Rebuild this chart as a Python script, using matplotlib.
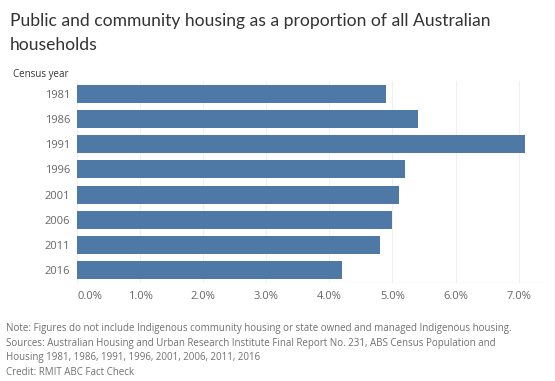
import matplotlib.pyplot as plt
from matplotlib.ticker import FuncFormatter

years = ["1981", "1986", "1991", "1996", "2001", "2006", "2011", "2016"]
share = [4.9, 5.4, 7.1, 5.2, 5.1, 5.0, 4.8, 4.2]
ticks = [0, 1, 2, 3, 4, 5, 6, 7]

plt.rcParams['font.family'] = ['Open Sans', 'DejaVu Sans']

W, H = 555, 381
fig = plt.figure(figsize=(W / 100, H / 100), dpi=100)
ax = fig.add_axes([77 / W, 1 - 283 / H, (547 - 77) / W, 202 / H])

ax.barh(range(len(years)), share, height=0.72, color='#4e78a5', zorder=2)
ax.set_ylim(len(years) - 0.5, -0.5)
ax.set_xlim(0, 7.45)
ax.set_yticks(range(len(years)))
ax.set_yticklabels(years)
ax.set_xticks(ticks)
ax.xaxis.set_major_formatter(FuncFormatter(lambda v, p: f"{v:.1f}%"))
ax.tick_params(axis='both', length=0, labelsize=8, labelcolor='#666666')
ax.tick_params(axis='x', pad=6)
ax.tick_params(axis='y', pad=5)
ax.get_xticklabels()[0].set_ha('left')
ax.grid(axis='x', color='#f0f0f0', linewidth=0.8, zorder=0)
for s in ax.spines.values():
    s.set_visible(False)
ax.axhline(len(years) - 0.5, color='#eef3f8', linewidth=1)

fig.text(10 / W, 1 - 33 / H, "Public and community housing as a proportion of all Australian\nhouseholds",
         fontsize=12.6, family=['Lato', 'DejaVu Sans'], color='#333333', va='center', ha='left',
         linespacing=1.6)
fig.text(13 / W, 1 - 75 / H, "Census year", fontsize=7, color='#333333', va='center', ha='left')

notes = ("Note: Figures do not include Indigenous community housing or state owned and managed Indigenous housing.\n"
         "Sources: Australian Housing and Urban Research Institute Final Report No. 231, ABS Census Population and\n"
         "Housing 1981, 1986, 1991, 1996, 2001, 2006, 2011, 2016\n"
         "Credit: RMIT ABC Fact Check")
fig.text(6 / W, 1 - 323 / H, notes, fontsize=7, color='#707070', va='top', ha='left', linespacing=1.45)

fig.savefig("out.png", dpi=100, facecolor='white')
